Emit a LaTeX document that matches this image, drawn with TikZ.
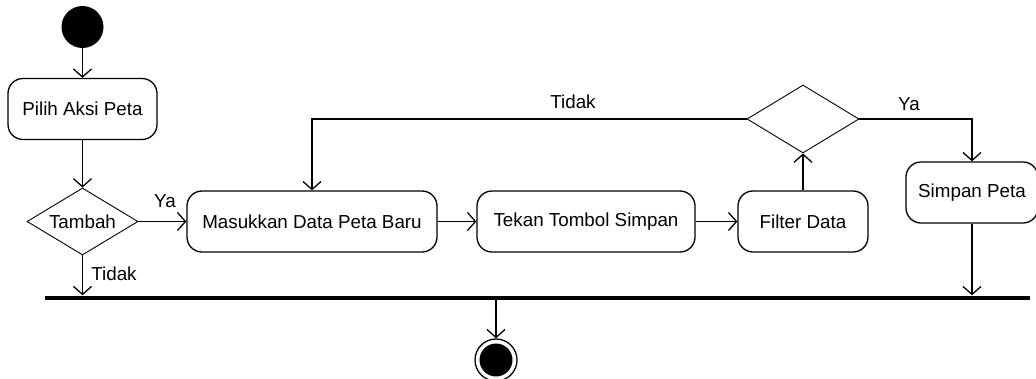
\documentclass[tikz,border=0pt]{standalone}
\usepackage{fontspec}
\setmainfont{Liberation Sans}
\usetikzlibrary{arrows.meta,shapes.geometric}
\begin{document}
\begin{tikzpicture}[x=1pt,y=-1pt,
  every node/.style={font=\fontsize{18.8}{22}\selectfont},
  flow/.style={line width=1.3pt,-{Straight Barb[length=8pt,width=18pt,line width=1.3pt]}},
  action/.style={draw,line width=1.3pt,rounded corners=15pt,minimum height=61pt,inner sep=0pt},
  decision/.style={draw,diamond,line width=0.9pt,inner sep=0pt,minimum width=111pt,minimum height=67pt,aspect=1.65},
  lbl/.style={inner sep=0pt}
]
\useasboundingbox (0,0) rectangle (1036,378);

% start and end states
\node[circle,fill=black,minimum size=42pt,inner sep=0pt] (start) at (82.5,27) {};
\node[circle,draw,line width=1.3pt,minimum size=42pt,inner sep=0pt] (end) at (496,360) {};
\node[circle,fill=black,minimum size=33pt,inner sep=0pt] (endin) at (496,360) {};

% actions
\node[action,minimum width=149pt] (pilih) at (82.5,109) {Pilih Aksi Peta};
\node[action,minimum width=250pt] (masuk) at (312,221.5) {Masukkan Data Peta Baru};
\node[action,minimum width=218pt] (tekan) at (586,221.5) {Tekan Tombol Simpan};
\node[action,minimum width=130pt] (filter) at (803,221.5) {Filter Data};
\node[action,minimum width=132pt] (simpan) at (972,192.5) {Simpan Peta};

% decisions
\node[decision] (tambah) at (82.5,221.5) {};
\node at (82.5,221.5) {Tambah};
\node[decision,minimum width=112pt,minimum height=68pt] (cek) at (803,119) {};

% join bar
\node[fill=black,minimum width=985pt,minimum height=4pt,inner sep=0pt] (bar) at (537.5,297.5) {};

% connectors
\draw[flow] (start) -- (pilih);
\draw[flow] (pilih) -- (tambah.north);
\draw[flow] (tambah.east) -- (masuk.west);
\draw[flow] (tambah.south) -- (tambah.south |- bar.north);
\draw[flow] (masuk) -- (tekan);
\draw[flow] (tekan) -- (filter);
\draw[flow] (filter.north) -- (cek.south);
\draw[flow] (cek.west) -| (masuk.north);
\draw[flow] (cek.east) -| (simpan.north);
\draw[flow] (simpan.south) -- (simpan.south |- bar.north);
\draw[flow] (bar.south -| end.north) -- (end.north);

% guard labels
\node[lbl] (ya1) at (165,201) {Ya};
\node[lbl] (tidak1) at (114,274) {Tidak};
\node[lbl] (tidak2) at (573,102) {Tidak};
\node[lbl] (ya2) at (909,104) {Ya};
\end{tikzpicture}
\end{document}
